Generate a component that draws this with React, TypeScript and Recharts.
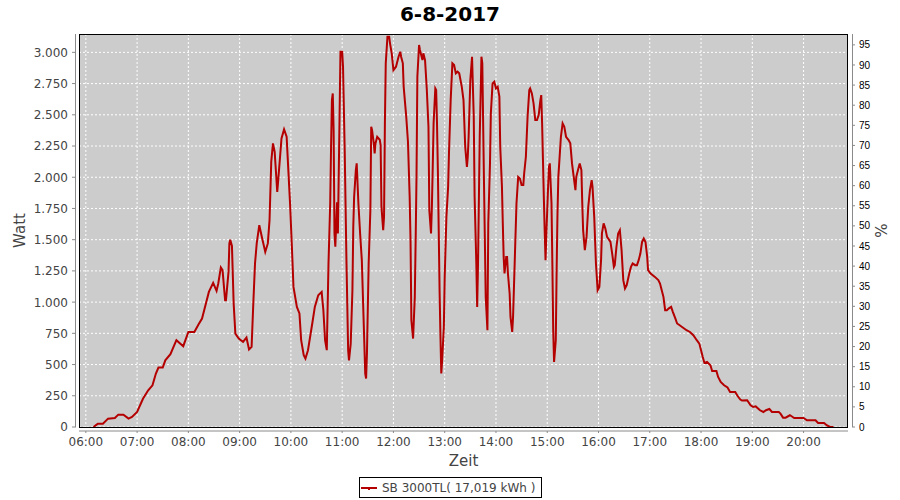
import React from 'react';
import { LineChart, Line, XAxis, YAxis, CartesianGrid, Legend } from 'recharts';

const TITLE = '6-8-2017';
const SERIES_NAME = 'SB 3000TL( 17,019 kWh )';
const X_LABEL = 'Zeit';
const Y_LEFT_LABEL = 'Watt';
const Y_RIGHT_LABEL = '%';

const TIMES = [
  '06:09','06:13','06:14','06:20','06:26','06:34','06:38','06:44','06:50','06:54',
  '07:00','07:07','07:13','07:18','07:22','07:25','07:30','07:33','07:39','07:46','07:54',
  '08:00','08:07','08:12','08:16','08:20','08:24','08:29','08:33','08:35','08:38','08:40','08:43','08:44','08:47','08:48','08:49','08:51','08:53','08:55','08:59',
  '09:04','09:08','09:11','09:14','09:16','09:18','09:20','09:23','09:26','09:30','09:33','09:35','09:37','09:39','09:41','09:44','09:45','09:47','09:49','09:52','09:55','09:57','09:59',
  '10:01','10:03','10:07','10:10','10:12','10:15','10:17','10:20','10:25','10:28','10:32','10:36','10:38','10:40','10:42','10:44','10:46','10:47','10:48','10:49','10:50','10:51','10:52','10:54','10:55','10:57','10:58',
  '11:00','11:01','11:03','11:04','11:05','11:07','11:08','11:10','11:12','11:13','11:14','11:16','11:17','11:19','11:21','11:23','11:25','11:27','11:28','11:29','11:31','11:33','11:34','11:35','11:37','11:38','11:39','11:41','11:44','11:45','11:46','11:48','11:49','11:50','11:51','11:53','11:55','11:56','11:58',
  '12:00','12:03','12:06','12:08','12:09','12:11','12:12','12:15','12:17','12:19','12:20','12:21','12:23','12:25','12:26','12:27','12:28','12:30','12:31','12:34','12:35','12:37','12:39','12:41','12:42','12:44','12:45','12:46','12:47','12:49','12:50','12:51','12:52','12:53','12:54','12:55','12:56','12:57','12:59',
  '13:00','13:02','13:04','13:05','13:07','13:09','13:11','13:13','13:15','13:17','13:20','13:22','13:24','13:26','13:27','13:28','13:30','13:32','13:34','13:35','13:37','13:38','13:39','13:41','13:43','13:44','13:46','13:48','13:50','13:51','13:53','13:54','13:56','13:58',
  '14:00','14:02','14:04','14:05','14:07','14:08','14:09','14:10','14:12','14:13','14:14','14:16','14:17','14:19','14:20','14:22','14:24','14:26','14:28','14:30','14:32','14:33','14:35','14:36','14:37','14:39','14:40','14:42','14:44','14:46','14:48','14:50','14:52','14:53','14:54','14:55','14:56','14:57','14:58','14:59',
  '15:01','15:02','15:03','15:05','15:06','15:07','15:08','15:10','15:11','15:12','15:13','15:15','15:16','15:18','15:20','15:22','15:25','15:27','15:29','15:31','15:33','15:34','15:36','15:38','15:40','15:41','15:42','15:44','15:46','15:48','15:50','15:52','15:53','15:55','15:56','15:57','15:59',
  '16:01','16:03','16:04','16:06','16:08','16:10','16:14','16:16','16:18','16:19','16:21','16:23','16:25','16:27','16:29','16:31','16:33','16:36','16:38','16:40','16:43','16:45','16:47','16:49','16:51','16:53','16:55','16:57','16:58',
  '17:01','17:06','17:10','17:12','17:14','17:16','17:18','17:20','17:22','17:25','17:27','17:30','17:32','17:35','17:43','17:47','17:51','17:55','17:58',
  '18:00','18:02','18:04','18:07','18:11','18:13','18:18','18:20','18:23','18:27','18:31','18:34','18:40','18:43','18:46','18:48','18:54','18:58',
  '19:01','19:04','19:09','19:13','19:16','19:20','19:23','19:31','19:33','19:36','19:39','19:44','19:46','19:49',
  '20:00','20:04','20:14','20:17','20:24','20:27','20:31','20:35',
];

const WATTS = [
  0,21,27,27,67,72,99,99,67,80,
  120,228,294,334,428,476,476,534,583,695,647,
  761,761,823,868,975,1082,1154,1090,1149,1277,1256,1015,1015,1242,1470,1500,1450,989,748,708,
  681,716,620,641,989,1309,1470,1616,1522,1402,1470,1656,2123,2271,2204,1883,1963,2137,2311,2383,2324,2057,1790,
  1470,1122,962,909,695,575,548,615,829,962,1055,1082,935,695,615,1309,1790,2244,2618,2671,2377,1550,1443,1800,1550,2511,3005,
  3005,2885,2204,1763,1336,615,534,668,1095,1603,1843,2057,2111,1790,1550,1336,881,428,388,588,1309,1736,2404,2377,2271,2191,2271,2324,2300,2257,1763,1576,1683,2431,2912,3125,3125,3072,2992,
  2858,2885,2965,3005,2965,2912,2724,2484,2284,1843,1496,855,708,1042,1496,2003,2805,3059,3019,2938,2992,2938,2711,2404,1736,1550,1763,2083,2431,2711,2698,2431,2057,1576,1095,735,428,534,801,
  1202,1683,1923,2191,2618,2912,2898,2832,2845,2832,2724,2618,2244,2083,2164,2324,2778,2965,2484,1843,1309,962,1309,2324,2965,2912,1950,1042,775,1630,2111,2511,2751,2765,
  2711,2724,2645,2244,1923,1630,1362,1229,1362,1362,1229,1069,881,761,881,1336,1790,2003,1990,1937,1937,2030,2164,2324,2484,2698,2711,2671,2591,2458,2458,2498,2618,2658,2431,2137,1843,1576,1336,1550,
  1923,2083,2111,1790,1309,775,521,695,1256,1710,2003,2217,2324,2431,2404,2324,2297,2271,2111,2003,1897,2003,2057,2111,2057,1790,1576,1416,1522,1763,1897,1977,1923,1683,1496,1309,1095,
  1122,1336,1550,1630,1590,1522,1482,1389,1282,1296,1443,1550,1576,1416,1176,1109,1136,1229,1282,1309,1296,1296,1336,1389,1482,1509,1482,1362,1256,
  1229,1202,1176,1149,1095,1042,935,935,948,962,922,868,829,815,775,761,735,695,668,
  615,561,513,521,494,449,449,401,361,334,316,281,281,246,220,212,214,174,
  160,165,134,120,134,144,120,120,107,75,75,94,86,72,
  72,54,54,32,32,14,0,0,
];

const X_TICK_LABELS = ['06:00','07:00','08:00','09:00','10:00','11:00','12:00','13:00','14:00','15:00','16:00','17:00','18:00','19:00','20:00'];
const WATT_TICKS = [0,250,500,750,1000,1250,1500,1750,2000,2250,2500,2750,3000];
const PCT_TICKS = [0,5,10,15,20,25,30,35,40,45,50,55,60,65,70,75,80,85,90,95];

// Layout
const W = 900;
const H = 500;
const MARGIN = { top: 34, right: 0, bottom: 0, left: 0 };
const LEFT_AXIS_W = 79;
const RIGHT_AXIS_W = 52;
const X_AXIS_H = 73;
const X_DOMAIN: [number, number] = [352, 1252];
const W_DOMAIN: [number, number] = [0, 3147];
const P_DOMAIN: [number, number] = [0, 97.7];
const LINE_COLOR = '#b40000';
const AXIS_COLOR = '#8a8a8a';
const TEXT_COLOR = '#444444';
const FONT = '"DejaVu Sans", sans-serif';

const toMin = (s: string) => {
  const [h, m] = s.split(':').map(Number);
  return h * 60 + m;
};
const fmtMin = (v: number) => {
  const h = Math.floor(v / 60);
  const m = v % 60;
  return `${String(h).padStart(2, '0')}:${String(m).padStart(2, '0')}`;
};
const fmtWatt = (v: number) =>
  v >= 1000 ? `${Math.floor(v / 1000)}.${String(v % 1000).padStart(3, '0')}` : String(v);

const data = TIMES.map((t, i) => ({ t: toMin(t), w: WATTS[i] }));
const X_TICKS = X_TICK_LABELS.map(toMin);

const PLOT = {
  left: MARGIN.left + LEFT_AXIS_W,
  top: MARGIN.top,
  right: W - MARGIN.right - RIGHT_AXIS_W,
  bottom: H - MARGIN.bottom - X_AXIS_H,
};

const LeftTick = (props: any) => {
  const { x, y, payload } = props;
  return (
    <g>
      <line x1={x - 7} x2={x - 3} y1={y} y2={y} stroke={AXIS_COLOR} strokeWidth={1} />
      <text x={x - 11} y={y + 4.4} textAnchor="end" fontSize={12} fontFamily={FONT} fill={TEXT_COLOR}>
        {fmtWatt(payload.value)}
      </text>
    </g>
  );
};

const RightTick = (props: any) => {
  const { x, y, payload } = props;
  return (
    <g>
      <line x1={x + 4} x2={x + 7} y1={y} y2={y} stroke={AXIS_COLOR} strokeWidth={1} />
      <text x={x + 11} y={y + 3.6} textAnchor="start" fontSize={10} fontFamily='"Liberation Sans", sans-serif' fill="#000">
        {payload.value}
      </text>
    </g>
  );
};

const BottomTick = (props: any) => {
  const { x, y, payload } = props;
  return (
    <g>
      <line x1={x} x2={x} y1={y + 4} y2={y + 6} stroke={AXIS_COLOR} strokeWidth={1} />
      <text x={x} y={y + 19} textAnchor="middle" fontSize={12} fontFamily={FONT} fill={TEXT_COLOR}>
        {fmtMin(payload.value)}
      </text>
    </g>
  );
};

const XLabel = (props: any) => {
  const vb = props.viewBox || {};
  return (
    <text x={vb.x + vb.width / 2} y={vb.y + 38.5} textAnchor="middle" fontSize={15} fontFamily={FONT} fill={TEXT_COLOR}>
      {X_LABEL}
    </text>
  );
};

const YLeftLabel = (props: any) => {
  const vb = props.viewBox || {};
  const cx = vb.x + 25;
  const cy = vb.y + vb.height / 2;
  return (
    <text x={cx} y={cy} transform={`rotate(-90 ${cx} ${cy})`} textAnchor="middle" fontSize={15} fontFamily={FONT} fill={TEXT_COLOR}>
      {Y_LEFT_LABEL}
    </text>
  );
};

const YRightLabel = (props: any) => {
  const vb = props.viewBox || {};
  const cx = vb.x + 39;
  const cy = vb.y + vb.height / 2;
  return (
    <text x={cx} y={cy} transform={`rotate(-90 ${cx} ${cy})`} textAnchor="middle" fontSize={15} fontFamily={FONT} fill={TEXT_COLOR}>
      {Y_RIGHT_LABEL}
    </text>
  );
};

const Frame = () => (
  <g>
    <text x={W / 2} y={21} textAnchor="middle" fontSize={20} fontWeight="bold" fontFamily={FONT} fill="#000">
      {TITLE}
    </text>
    <line x1={PLOT.left - 3.5} x2={PLOT.left - 3.5} y1={PLOT.top} y2={PLOT.bottom} stroke={AXIS_COLOR} />
    <line x1={PLOT.right + 4.5} x2={PLOT.right + 4.5} y1={PLOT.top} y2={PLOT.bottom} stroke={AXIS_COLOR} />
    <line x1={PLOT.left} x2={PLOT.right} y1={PLOT.bottom + 4} y2={PLOT.bottom + 4} stroke={AXIS_COLOR} />
    <rect x={PLOT.left + 0.5} y={PLOT.top + 0.5} width={PLOT.right - PLOT.left - 1} height={PLOT.bottom - PLOT.top} fill="none" stroke="#000" strokeWidth={1} />
  </g>
);

const LegendBox = (props: any) => {
  const item = (props.payload && props.payload[0]) || { value: SERIES_NAME, color: LINE_COLOR };
  return (
    <div
      style={{
        boxSizing: 'border-box',
        width: 183,
        height: 21,
        border: '1px solid #000',
        display: 'flex',
        alignItems: 'center',
        fontFamily: FONT,
        fontSize: 12,
        color: TEXT_COLOR,
        background: '#fff',
        whiteSpace: 'pre',
      }}
    >
      <svg width={22} height={19} style={{ display: 'block' }}>
        <line x1={1} x2={17} y1={10} y2={10} stroke={item.color || LINE_COLOR} strokeWidth={2} />
        <rect x={8} y={10} width={2} height={2} fill={item.color || LINE_COLOR} />
      </svg>
      <span>{item.value}</span>
    </div>
  );
};

export default function App() {
  return (
    <div style={{ position: 'absolute', left: 0, top: 0, width: W, height: H, background: '#fff' }}>
      <LineChart width={W} height={H} data={data} margin={MARGIN}>
        <CartesianGrid yAxisId="left" fill="#cccccc" stroke="#ffffff" strokeDasharray="2 2" />
        <XAxis
          dataKey="t"
          type="number"
          domain={X_DOMAIN}
          ticks={X_TICKS}
          interval={0}
          height={X_AXIS_H}
          axisLine={false}
          tickLine={false}
          tickSize={0}
          tickMargin={0}
          tick={<BottomTick />}
          label={XLabel}
          allowDataOverflow
        />
        <YAxis
          yAxisId="left"
          type="number"
          domain={W_DOMAIN}
          ticks={WATT_TICKS}
          interval={0}
          width={LEFT_AXIS_W}
          axisLine={false}
          tickLine={false}
          tickSize={0}
          tickMargin={0}
          tick={<LeftTick />}
          label={YLeftLabel}
          allowDataOverflow
        />
        <YAxis
          yAxisId="right"
          orientation="right"
          type="number"
          domain={P_DOMAIN}
          ticks={PCT_TICKS}
          interval={0}
          width={RIGHT_AXIS_W}
          axisLine={false}
          tickLine={false}
          tickSize={0}
          tickMargin={0}
          tick={<RightTick />}
          label={YRightLabel}
          allowDataOverflow
        />
        <Frame />
        <Legend
          layout="horizontal"
          verticalAlign="middle"
          align="center"
          content={LegendBox}
          wrapperStyle={{ left: 359, top: 477, width: 183, height: 21 }}
        />
        <Line
          yAxisId="left"
          dataKey="w"
          name={SERIES_NAME}
          type="linear"
          stroke={LINE_COLOR}
          strokeWidth={2}
          dot={false}
          activeDot={false}
          isAnimationActive={false}
        />
      </LineChart>
    </div>
  );
}
